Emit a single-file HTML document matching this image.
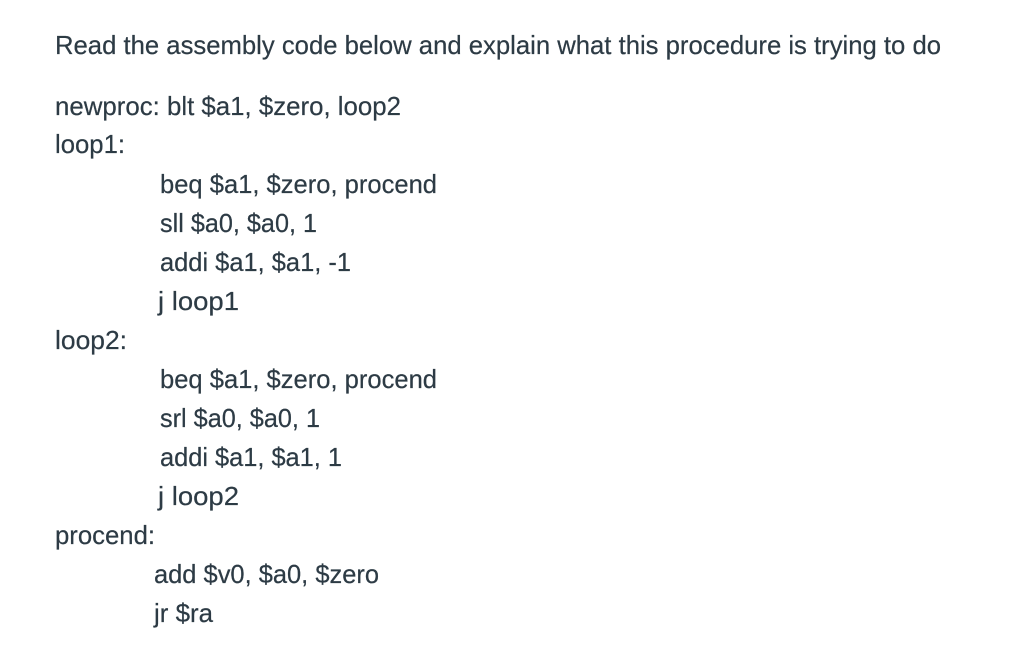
<!DOCTYPE html>
<html>
<head>
<meta charset="utf-8">
<style>
html,body{margin:0;padding:0;background:#fff;width:1024px;height:653px;overflow:hidden}
svg{display:block}
text{font-family:"Liberation Sans",sans-serif;font-size:26px;fill:#2d3b45;stroke:#2d3b45;stroke-width:.2px}
</style>
</head>
<body>
<svg width="1024" height="653" viewBox="0 0 1024 653" xmlns="http://www.w3.org/2000/svg">
<rect width="1024" height="653" fill="#fff"/>
<text x="55" y="54" textLength="886" lengthAdjust="spacingAndGlyphs">Read the assembly code below and explain what this procedure is trying to do</text>
<text x="55" y="115" textLength="346" lengthAdjust="spacingAndGlyphs">newproc: blt $a1, $zero, loop2</text>
<text x="55" y="153" textLength="70" lengthAdjust="spacingAndGlyphs">loop1:</text>
<text x="160" y="193" textLength="277" lengthAdjust="spacingAndGlyphs">beq $a1, $zero, procend</text>
<text x="160" y="232" textLength="157" lengthAdjust="spacingAndGlyphs">sll $a0, $a0, 1</text>
<text x="160" y="271" textLength="191" lengthAdjust="spacingAndGlyphs">addi $a1, $a1, -1</text>
<text x="158" y="310" textLength="81" lengthAdjust="spacingAndGlyphs">j loop1</text>
<text x="55" y="349" textLength="72" lengthAdjust="spacingAndGlyphs">loop2:</text>
<text x="160" y="388" textLength="277" lengthAdjust="spacingAndGlyphs">beq $a1, $zero, procend</text>
<text x="160" y="427" textLength="160" lengthAdjust="spacingAndGlyphs">srl $a0, $a0, 1</text>
<text x="160" y="466" textLength="182" lengthAdjust="spacingAndGlyphs">addi $a1, $a1, 1</text>
<text x="158" y="505" textLength="81" lengthAdjust="spacingAndGlyphs">j loop2</text>
<text x="55" y="544" textLength="100" lengthAdjust="spacingAndGlyphs">procend:</text>
<text x="154" y="583" textLength="225" lengthAdjust="spacingAndGlyphs">add $v0, $a0, $zero</text>
<text x="154" y="622" textLength="59" lengthAdjust="spacingAndGlyphs">jr $ra</text>
</svg>
</body>
</html>
